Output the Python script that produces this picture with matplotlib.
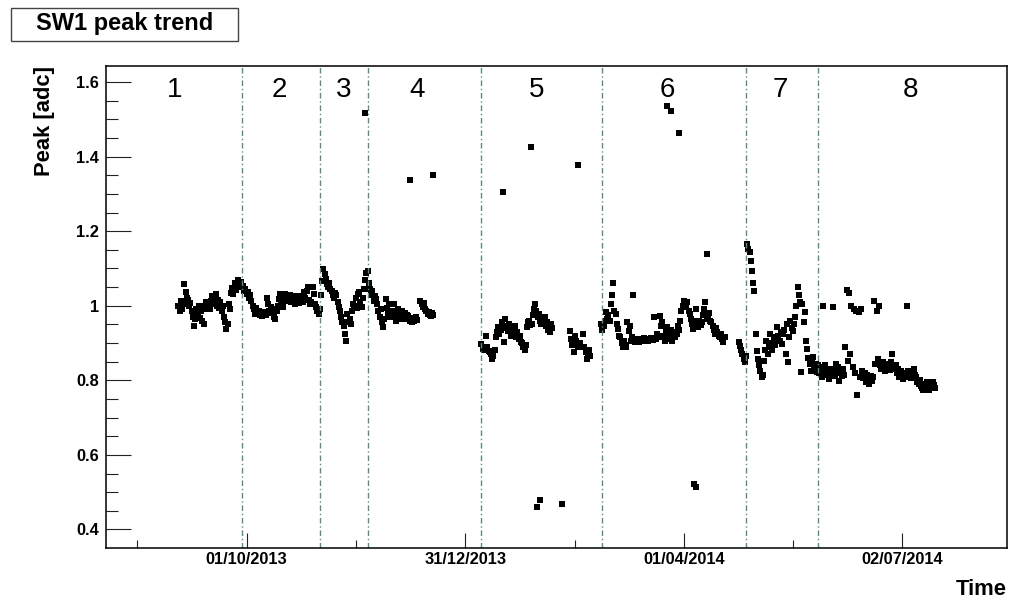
import numpy as np
import matplotlib
matplotlib.use('Agg')
import matplotlib.pyplot as plt
import matplotlib.dates as mdates
from matplotlib.patches import Rectangle
from datetime import datetime

plt.rcParams['font.family'] = ['Liberation Sans', 'DejaVu Sans']

# time is in days since 01/10/2013, one reading every 12 hours
t0 = datetime(2013, 10, 1)
step = 0.5
nan = np.nan

# regions 1-4
start_a = -28.5
peak_a = [
    1.000, 0.985, 1.012, 0.990, 1.005,
    1.058, 1.036, 1.022,
    1.015, 0.998, 1.008,
    0.985, 0.970, 0.946, 0.965,
    0.992, 0.975, 1.000, 0.968, 0.985, 0.960,
    0.951, 0.998, 1.010, 0.992, 1.005, 0.990, 1.013,
    1.027, 1.005, 1.018, 1.031, 1.000, 1.015,
    0.995, 1.010, 0.987, 1.000,
    0.969, 0.955, 0.938,
    0.950, 1.004, 0.991,
    1.035, 1.048, 1.031, 1.060, 1.042,
    1.055, 1.070, 1.050, 1.064, 1.049,
    1.054, 1.040, 1.046, 1.032, 1.038, 1.022, 1.028,
    1.012, 1.000, 0.990, 0.978, 0.995, 0.982,
    0.986, 0.976, 0.980, 0.973, 0.984, 0.978, 0.975,
    1.022, 1.005, 0.987,
    0.996, 0.980, 0.990, 0.970, 0.964, 0.985,
    1.000, 1.018, 1.031, 1.010, 0.996,
    1.020, 1.031, 1.013, 1.025, 1.018, 1.028,
    1.010, 1.027, 1.015, 1.004, 1.020, 1.012, 1.025, 1.008, 1.018, 1.022, 1.010,
    1.036, 1.020, 1.040, 1.049, 1.015, 1.004,
    1.010, 1.049, 1.031, 1.004,
    0.996, 0.985, 0.978, 0.990,
    1.030, 1.067,
    1.098, 1.085, 1.071, 1.058,
    1.049, 1.060, 1.045,
    1.040, 1.030, 1.022, 1.035, 1.028, 1.009,
    0.996, 0.987, 0.970, 0.955,
    0.946, 0.924, 0.906,
    0.978, 0.955, 0.965, 0.951,
    0.987, 1.005, 1.000, 1.020, 0.995, 1.031,
    1.036, 1.010, 0.996, 1.020,
    1.045, 1.070, 1.089, 1.093,
    1.060, 1.045, 1.030, 1.040, 1.013, 1.025, 1.018,
    1.004, 0.985, 0.970, 0.990, 0.955, 0.942, 0.965,
    1.018, 0.995, 0.980, 1.005, 0.969, 0.985, 0.975,
    1.004, 0.980, 0.960, 0.990, 0.970, 0.985, 0.965,
    0.987, 0.970, 0.980, 0.964, 0.975,
    0.973, 0.960, 0.968, 0.955, 0.965, 0.958, 0.970, 0.962,
    nan, nan,
    1.013, 1.005, 0.996, 1.008, 0.991,
    0.985, 0.978, 0.982, 0.975, 0.973, 0.980, 0.976,
]

# region 5
start_b = 98.0
peak_b = [
    0.897, 0.885, 0.880, 0.890,
    0.920, 0.888, 0.878, 0.875,
    0.870, 0.857, 0.865, 0.880,
    0.915, 0.930, 0.942, 0.925, 0.935,
    0.955, 0.940, 0.902, 0.964, 0.945, 0.933,
    0.951, 0.935, 0.920, 0.940, 0.928,
    0.946, 0.915, 0.930, 0.910, 0.920, 0.902,
    0.900, 0.890, 0.880, 0.895,
    0.942, 0.955, 0.960, 0.948, 0.950,
    0.975, 0.990, 1.004, 0.985, 0.969,
    0.978, 0.960, 0.951, 0.968, 0.955,
    0.969, 0.945, 0.955, 0.935, 0.929, 0.950, 0.940,
    nan, nan, nan, nan, nan, nan, nan, nan, nan, nan, nan, nan, nan, nan,
    0.933, 0.910, 0.895, 0.875, 0.918,
    0.906, 0.895, 0.889, 0.900, nan, nan,
    0.924, 0.889, 0.875, 0.857, 0.870, 0.880, 0.865,
]

# region 6
start_c = 148.0
peak_c = [
    0.950, 0.934, 0.945, 0.960,
    0.982, 0.965, 0.975, 0.960,
    1.004, 1.030, 1.062, 0.986,
    0.978, 0.951, 0.938, 0.920,
    0.915, 0.900, 0.889, 0.905, 0.895, 0.890,
    0.955, 0.933, 0.945, 0.906,
    0.915, 1.029, 0.902, 0.910, 0.905, 0.912, 0.903, 0.908,
    0.910, 0.906, 0.914, 0.908, 0.912, 0.905, 0.910, 0.907, 0.913, 0.908, 0.969,
    0.912, 0.910, 0.925, 0.915,
    0.973, 0.946, 0.955, 0.920, 0.906, 0.935,
    0.942, 0.925, 0.910, 0.935, 0.906, 0.920, 0.930,
    0.915, 0.925, 0.946, 0.935, 0.960, 0.985, 1.000, 1.013,
    1.005, 0.996, 1.010, 0.985, 0.978,
    0.965, 0.950, 0.938, 0.960, 0.991,
    0.955, 0.942, 0.960, 0.948, 0.955,
    0.975, 0.991, 1.009, 0.970, 0.965,
    0.980, 0.960, 0.955, 0.946, 0.935,
    0.924, 0.940, 0.930, 0.920,
    0.915, 0.924, 0.910, 0.902, 0.915,
]

# regions 7-8
start_d = 205.5
peak_d = [
    0.902, 0.893, 0.880, 0.871, 0.857, 0.848, 0.865,
    1.165, 1.151, 1.143, 1.120, 1.094, 1.062,
    1.040, 0.924, 0.879, 0.857,
    0.840, 0.825, 0.808, 0.815,
    0.853, 0.880, 0.906, 0.870, 0.890,
    0.924, 0.900, 0.880, 0.910, 0.895, 0.915,
    0.942, 0.920, 0.905, 0.930, 0.897, 0.925, 0.935,
    0.871, 0.951, 0.848, 0.915,
    0.960, 0.940, 0.933, 0.950,
    0.969, 1.000, 1.049, 1.030, 1.010,
    0.822, 1.004, 0.955, 0.982, 0.906,
    0.884, 0.860, 0.845, 0.826, 0.850,
    0.862, 0.835, 0.845, 0.822, 0.840,
    0.820, 0.835, 0.810, 1.000, 0.825,
    0.840, 0.815, 0.830, 0.804, 0.825, 0.818, 0.830, 0.997, 0.812,
    0.844, 0.820, 0.835, 0.799, 0.825, 0.812, 0.830, 0.815, 0.888,
    1.042, 0.853, 1.033, 0.870,
    1.000, 0.835, 0.990, 0.820, 0.985, 0.761, 0.982, 0.810, 0.990, 0.825,
    0.805, 0.820, 0.795, 0.815, 0.800, 0.790, 0.812, 0.798, 0.808,
    1.013, 0.845, 0.987, 0.857, 1.000,
    0.840, 0.830, 0.850, 0.835, 0.826, 0.845, 0.832, 0.838, 0.828, 0.850, 0.871, 0.835, 0.830,
    0.840, 0.820, 0.830, 0.810, 0.825, 0.815, 0.804, 0.820, 0.812, 0.998, 0.825, 0.808,
    0.818, 0.805, 0.820, 0.830, 0.815,
    0.808, 0.795, 0.790, 0.800, 0.785, 0.780, 0.773, 0.790, 0.778, 0.795, 0.785, 0.775,
    0.790, 0.782, 0.795, 0.788, 0.780,
]

# isolated readings far off the trend
spike_days = [49.4, 68.2, 77.8, 107.0, 118.7, 121.2, 122.5, 131.6, 138.3,
              175.5, 177.2, 180.5, 186.8, 187.6, 192.2]
spike_peaks = [1.518, 1.338, 1.350, 1.305, 1.425, 0.460, 0.480, 0.468, 1.378,
               1.535, 1.522, 1.462, 0.521, 0.515, 1.139]

# calibration periods
boundary_days = [-2.1, 30.7, 50.5, 97.7, 148.2, 208.4, 238.4]
period_label_days = [-29.9, 13.5, 40.6, 71.1, 121.2, 175.5, 222.7, 277.0]
period_labels = ['1', '2', '3', '4', '5', '6', '7', '8']

tick_days = [0, 91.25, 182.5, 273.75]
tick_labels = ['01/10/2013', '31/12/2013', '01/04/2014', '02/07/2014']
minor_tick_days = [-45.6, 45.6, 136.9, 228.1]


base = mdates.date2num(t0)
days = []
peaks = []
for start, vals in [(start_a, peak_a), (start_b, peak_b), (start_c, peak_c), (start_d, peak_d)]:
    days.append(start + step * np.arange(len(vals)))
    peaks.append(np.array(vals))
days = np.concatenate(days + [np.array(spike_days)])
peaks = np.concatenate(peaks + [np.array(spike_peaks)])

fig = plt.figure(figsize=(10.11, 6.02), dpi=100)
ax = fig.add_axes([0.1048, 0.0902, 0.8909, 0.8002])

ax.plot(base + days, peaks, ls='none', marker='s', ms=4.0, mew=0, color='black')

for d in boundary_days:
    ax.axvline(base + d, color='#5b8c7c', lw=1.0, ls=(0, (4, 2, 1, 2)))

for d, lab in zip(period_label_days, period_labels):
    ax.text(base + d, 1.559, lab, ha='center', va='baseline', fontsize=20)

ax.set_xlim(base - 58.75, base + 317.3)
ax.set_ylim(0.351, 1.643)

ax.set_xticks([base + d for d in tick_days])
ax.set_xticklabels(tick_labels, fontweight='bold', fontsize=11.8)
ax.set_xticks([base + d for d in minor_tick_days], minor=True)
ax.set_yticks([0.4, 0.6, 0.8, 1.0, 1.2, 1.4, 1.6])
ax.set_yticklabels(['0.4', '0.6', '0.8', '1', '1.2', '1.4', '1.6'], fontweight='bold', fontsize=11.8)
ax.set_yticks(np.arange(0.45, 1.6, 0.05), minor=True)

ax.tick_params(which='both', direction='in', top=False, right=False, width=0.8, color='#222222')
ax.tick_params(axis='y', which='major', length=18, pad=5)
ax.tick_params(axis='y', which='minor', length=8.6)
ax.tick_params(axis='x', which='major', length=10.8, pad=3)
ax.tick_params(axis='x', which='minor', length=5.5)
for s in ax.spines.values():
    s.set_linewidth(1.1)

fig.text(0.044, 0.8904, 'Peak [adc]', rotation=90, ha='center', va='top',
         fontsize=15.8, fontweight='bold')
fig.text(1007 / 1011, 7 / 602, 'Time', ha='right', va='baseline',
         fontsize=15.8, fontweight='bold')

# title box
fig.patches.append(Rectangle((0.0109, 0.9319), 0.2245, 0.0548, transform=fig.transFigure,
                             facecolor='white', edgecolor='#444444', lw=1.0))
fig.text(0.1231, 0.950, 'SW1 peak trend', ha='center', va='baseline',
         fontsize=17, fontweight='bold')

fig.savefig('out.png', dpi=100)
